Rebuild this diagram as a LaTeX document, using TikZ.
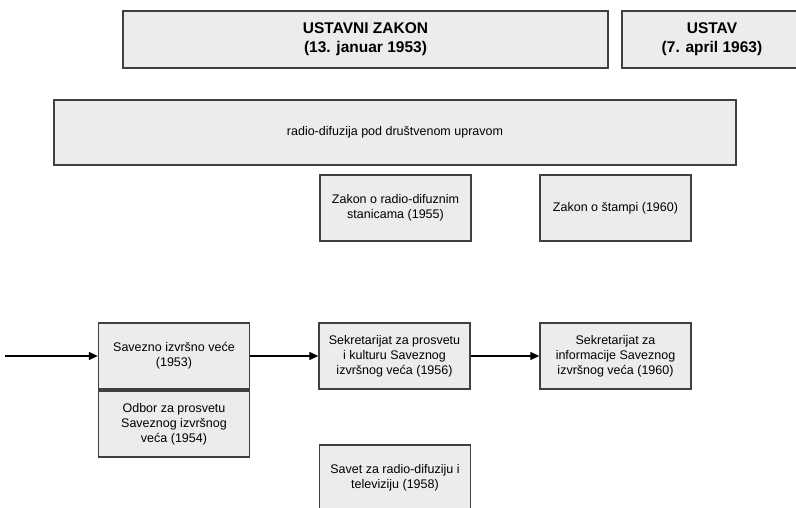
\documentclass[tikz,border=0pt]{standalone}
\usepackage{fontspec}
\setmainfont{Liberation Sans}
\usetikzlibrary{arrows.meta}
\definecolor{boxfill}{RGB}{236,236,236}
\definecolor{boxline}{RGB}{64,64,64}

\begin{document}
\begin{tikzpicture}[x=1pt,y=-1pt,
  organ/.style={draw=boxline,line width=1.4pt,fill=boxfill,inner sep=0pt,
    minimum width=151pt,minimum height=66pt,align=center,
    font=\fontsize{12.5}{15}\selectfont},
  akt/.style={organ,minimum height=57pt,font=\fontsize{15.5}{19}\selectfont\bfseries},
  tok/.style={line width=1.3pt,-{Triangle[length=9pt,width=8pt]}}]
\clip (0,0) rectangle (796,508);
\node[akt,minimum width=485pt] (ustzakon) at (365.5,39.5) {USTAVNI ZAKON\\(13. januar 1953)};
\node[akt,minimum width=180pt] (ustav) at (712,39.5) {USTAV\\(7. april 1963)};
\node[organ,minimum width=682pt,minimum height=65pt] (radio) at (395,132.5) {radio-difuzija pod društvenom upravom};
\node[organ] (zakonrd) at (395.5,208) {Zakon o radio-difuznim\\stanicama (1955)};
\node[organ] (zakonst) at (615.5,208) {Zakon o štampi (1960)};
\node[organ] (savezno) at (174,356) {Savezno izvršno veće\\(1953)};
\node[organ] (odbor) at (174,424) {Odbor za prosvetu\\Saveznog izvršnog\\veća (1954)};
\node[organ] (sekprosv) at (394.5,356) {Sekretarijat za prosvetu\\i kulturu Saveznog\\izvršnog veća (1956)};
\node[organ] (sekinf) at (615.5,356) {Sekretarijat za\\informacije Saveznog\\izvršnog veća (1960)};
\node[organ] (savet) at (395,478) {Savet za radio-difuziju i\\televiziju (1958)};
\coordinate (ulaz) at (5,356);
\draw[tok] (ulaz) -- (savezno.west);
\draw[tok] (savezno.east) -- (sekprosv.west);
\draw[tok] (sekprosv.east) -- (sekinf.west);
\end{tikzpicture}
\end{document}
